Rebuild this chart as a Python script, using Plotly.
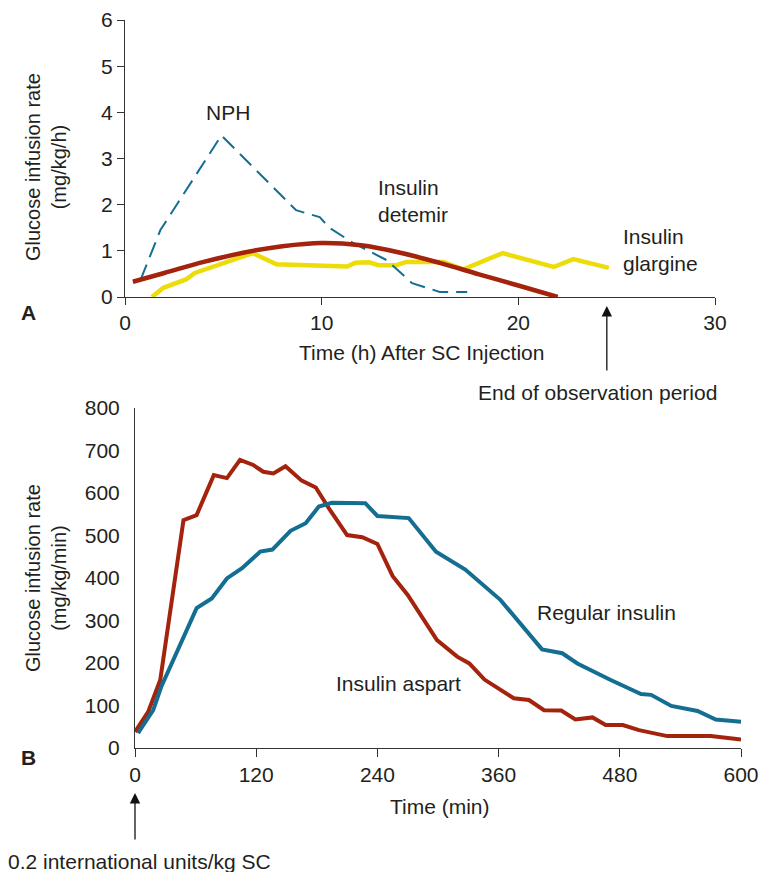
import plotly.graph_objects as go

W, H = 759, 872

# ---------- Panel A data (hours, mg/kg/h) ----------
nph_t = [0.8, 1.8, 4.9, 8.7, 9.9, 10.4, 11.6, 13.3, 14.6, 16.0, 17.4]
nph_v = [0.38, 1.45, 3.5, 1.88, 1.73, 1.5, 1.17, 0.8, 0.3, 0.11, 0.11]

detemir_t = [0.4, 2, 4, 6, 8, 10, 12, 14, 16, 18, 20, 22]
detemir_v = [0.33, 0.52, 0.76, 0.96, 1.1, 1.17, 1.12, 0.96, 0.74, 0.49, 0.25, 0.0]

glargine_t = [1.37, 1.95, 3.1, 3.55, 6.5, 7.7, 11.3, 11.7, 12.4, 12.9, 13.8, 14.3,
              16.2, 17.2, 19.2, 21.8, 22.8, 24.6]
glargine_v = [0.0, 0.2, 0.38, 0.52, 0.95, 0.71, 0.66, 0.74, 0.75, 0.69, 0.69, 0.76,
              0.76, 0.6, 0.95, 0.65, 0.82, 0.63]

# ---------- Panel B data (min, mg/kg/min) ----------
aspart_t = [0, 13, 25, 48, 61, 78, 91, 104, 117, 127, 137, 149, 165, 179, 193, 210,
            225, 240, 255, 270, 299, 319, 331, 346, 375, 390, 405, 422, 436, 453,
            466, 483, 499, 527, 570, 600]
aspart_v = [38, 85, 160, 536, 548, 642, 635, 678, 666, 650, 646, 663, 629, 613, 560,
            501, 496, 480, 405, 360, 254, 215, 199, 161, 117, 113, 89, 88, 67, 72,
            54, 54, 42, 28, 28, 20]

regular_t = [3, 18, 26, 61, 76, 91, 106, 124, 136, 154, 169, 182, 195, 228, 240, 271,
             298, 327, 362, 403, 423, 438, 471, 501, 511, 531, 557, 575, 600]
regular_v = [35, 89, 144, 329, 352, 399, 423, 462, 467, 511, 529, 568, 577, 576, 546,
             541, 462, 420, 348, 232, 223, 199, 160, 127, 125, 99, 87, 67, 62]

a_xticks = [0, 10, 20, 30]
a_yticks = [0, 1, 2, 3, 4, 5, 6]
b_xticks = [0, 120, 240, 360, 480, 600]
b_ylabels = [0, 100, 200, 300, 400, 500, 600, 700, 800]
b_ytickmarks = [0, 200, 400, 600, 800]

BLUE = "#146e91"
RED = "#a3230c"
YELLOW = "#ecdc0a"
AX = "#333333"
FONT = "Liberation Sans, Arial, sans-serif"
TXT = "#231f20"
FS = 21


def px(x):
    return x / W


def py(y):
    return 1 - y / H


fig = go.Figure()

fig.add_trace(go.Scatter(x=glargine_t, y=glargine_v, mode="lines",
                         line=dict(color=YELLOW, width=4.5), xaxis="x", yaxis="y"))
fig.add_trace(go.Scatter(x=nph_t, y=nph_v, mode="lines",
                         line=dict(color=BLUE, width=2, dash="16px,8px"), xaxis="x", yaxis="y"))
fig.add_trace(go.Scatter(x=detemir_t, y=detemir_v, mode="lines", line_shape="spline",
                         line=dict(color=RED, width=4.5), xaxis="x", yaxis="y"))

fig.add_trace(go.Scatter(x=aspart_t, y=aspart_v, mode="lines",
                         line=dict(color=RED, width=4), xaxis="x2", yaxis="y2"))
fig.add_trace(go.Scatter(x=regular_t, y=regular_v, mode="lines",
                         line=dict(color=BLUE, width=4), xaxis="x2", yaxis="y2"))

tickfont = dict(family=FONT, size=FS, color=TXT)
common = dict(showgrid=False, zeroline=False, showline=True, linecolor=AX, linewidth=1,
              tickcolor=AX, ticklen=7, tickwidth=1, tickfont=tickfont, ticks="outside",
              automargin=False)

fig.update_layout(
    width=W, height=H, margin=dict(l=0, r=0, t=0, b=0),
    paper_bgcolor="white", plot_bgcolor="rgba(0,0,0,0)", showlegend=False,
    font=dict(family=FONT, size=FS, color=TXT),
    xaxis=dict(domain=[px(125), px(715)], range=[0, 30], tickvals=a_xticks,
               anchor="y", **common),
    yaxis=dict(domain=[py(297), py(20)], range=[0, 6], tickvals=a_yticks,
               anchor="x", **common),
    xaxis2=dict(domain=[px(135), px(741)], range=[0, 600], tickvals=b_xticks,
                anchor="y2", **{**common, "ticklen": 8}),
    yaxis2=dict(domain=[py(748), py(408)], range=[0, 800], tickvals=b_ylabels,
                anchor="x2", **{**common, "ticklen": 10, "tickcolor": "rgba(0,0,0,0)"}),
    yaxis3=dict(domain=[py(748), py(408)], range=[0, 800], tickvals=b_ytickmarks,
                anchor="x2", overlaying="y2", showticklabels=False,
                **{**{k: v for k, v in common.items() if k != "tickfont"}, "ticklen": 9}),
)


def txt(x, y, s, xanchor="center", yanchor="middle", **kw):
    fig.add_annotation(x=px(x), y=py(y), xref="paper", yref="paper", text=s,
                       showarrow=False, xanchor=xanchor, yanchor=yanchor,
                       font=dict(family=FONT, size=kw.pop("size", FS), color=TXT),
                       align=kw.pop("align", "center"), **kw)


txt(228, 112, "NPH")
txt(376, 201, "Insulin<br>detemir", xanchor="left", align="left")
txt(621, 250, "Insulin<br>glargine", xanchor="left", align="left")
txt(29, 312, "<b>A</b>")
txt(421, 352, "Time (h) After SC Injection")
txt(597, 392, "End of observation period")
txt(46, 167, "Glucose infusion rate<br>(mg/kg/h)", textangle=-90, size=20)

txt(535, 612, "Regular insulin", xanchor="left")
txt(334, 683, "Insulin aspart", xanchor="left")
txt(29, 757, "<b>B</b>")
txt(440, 806, "Time (min)")
txt(6, 861, "0.2 international units/kg SC", xanchor="left")
txt(46, 578, "Glucose infusion rate<br>(mg/kg/min)", textangle=-90, size=20)

# arrows
fig.add_annotation(x=24.5, y=py(306), xref="x", yref="paper", ax=0, ay=66,
                   showarrow=True, arrowhead=2, arrowsize=1.6, arrowwidth=1.3,
                   arrowcolor="#111111", text="")
fig.add_annotation(x=0, y=py(793), xref="x2", yref="paper", ax=0, ay=48,
                   showarrow=True, arrowhead=2, arrowsize=1.6, arrowwidth=1.3,
                   arrowcolor="#111111", text="")

fig.write_html(
    "out.html",
    config={"displayModeBar": False},
    post_script="document.documentElement.style.margin='0';"
                "document.body.style.margin='0';document.body.style.padding='0';"
                "document.body.style.overflow='hidden';",
)
